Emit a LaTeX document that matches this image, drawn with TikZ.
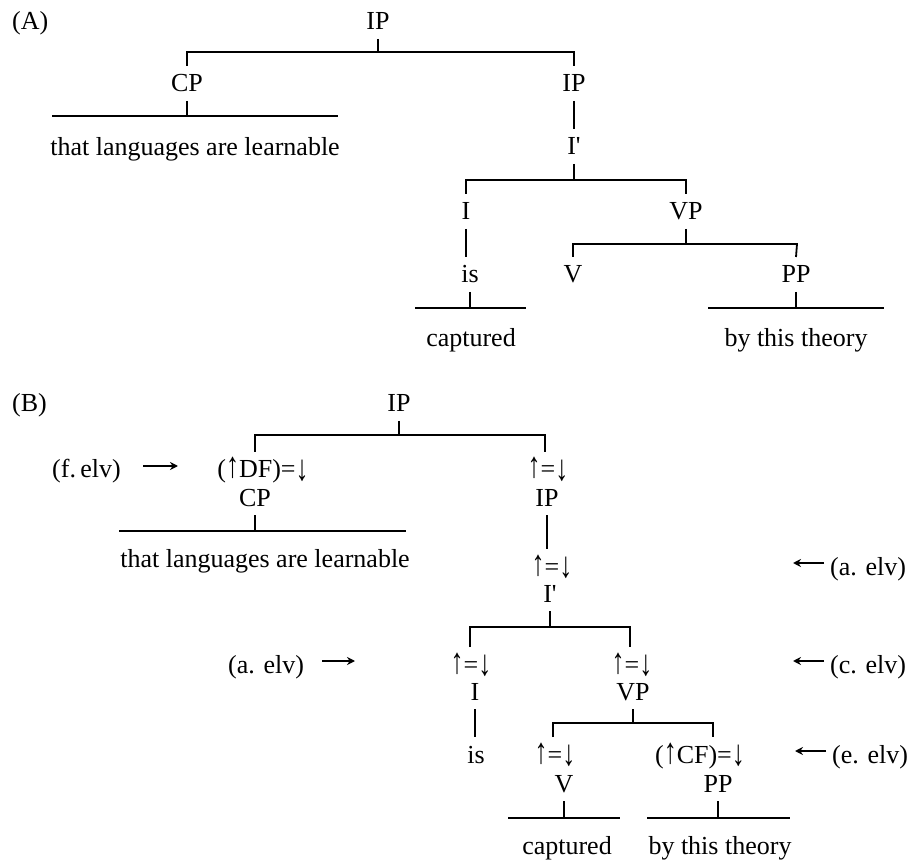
\documentclass[tikz,border=0pt]{standalone}
\usepackage{fontspec}
\setmainfont{Liberation Serif}
\usetikzlibrary{arrows.meta}
\newcommand{\ibarlabel}{I\textquotesingle}
% taller up/down arrows for the functional annotations
\newcommand{\uparr}{\scalebox{1}[1.4]{↑}}
\newcommand{\dnarr}{\raisebox{-0.08em}{\scalebox{1}[1.4]{↓}}}
\newcommand{\eqann}{\uparr=\dnarr}
\begin{document}
\begin{tikzpicture}[x=1pt,y=-1pt,
  every node/.style={font=\fontsize{26}{30}\selectfont, inner sep=0pt},
  cat/.style={anchor=base, text height=17pt, text depth=0pt, outer ysep=9pt},
  words/.style={anchor=base},
  side/.style={anchor=base west},
  tree/.style={line width=1.8pt},
  pointer/.style={line width=1.7pt, -{Stealth[length=8pt,width=8pt]}}]
\useasboundingbox (0,0) rectangle (908,866);

% ---------------- (A) phrase-structure tree ----------------
\node[side] (labA) at (12,30) {(A)};
\node[cat] (ipA)   at (378,30)  {IP};
\node[cat] (cpA)   at (187,92)  {CP};
\node[cat] (ipA2)  at (574,92)  {IP};
\node[cat] (ibarA) at (574,155) {\ibarlabel};
\node[cat] (iA)    at (466,220) {I};
\node[cat] (vpA)   at (686,220) {VP};
\node[cat] (isA)   at (470,283) {is};
\node[cat] (vA)    at (573,283) {V};
\node[cat] (ppA)   at (796,283) {PP};
\node[words] (wA1) at (195,156) {that languages are learnable};
\node[words] (wA2) at (471,347) {captured};
\node[words] (wA3) at (796,347) {by this theory};

\coordinate (a1l) at (187,52);  \coordinate (a1r) at (574,52);
\coordinate (a2l) at (52,116);  \coordinate (a2r) at (338,116);
\coordinate (a3l) at (466,180); \coordinate (a3r) at (686,180);
\coordinate (a4l) at (573,244); \coordinate (a4r) at (797,244);
\coordinate (a5l) at (415,308); \coordinate (a5r) at (526,308);
\coordinate (a6l) at (708,308); \coordinate (a6r) at (884,308);

\draw[tree] (ipA.south) -- (ipA.south |- a1l);
\draw[tree] (cpA.north) -- (a1l) -- (a1r) -- (ipA2.north);
\draw[tree] (cpA.south) -- (cpA.south |- a2l);
\draw[tree] (a2l) -- (a2r);
\draw[tree] (ipA2.south) -- (ibarA.north);
\draw[tree] (ibarA.south) -- (ibarA.south |- a3l);
\draw[tree] (iA.north) -- (a3l) -- (a3r) -- (vpA.north);
\draw[tree] (iA.south) -- (iA.south |- isA.north);
\draw[tree] (vpA.south) -- (vpA.south |- a4l);
\draw[tree] (vA.north) -- (a4l) -- (a4r) -- (ppA.north);
\draw[tree] (isA.south) -- (isA.south |- a5l);
\draw[tree] (a5l) -- (a5r);
\draw[tree] (ppA.south) -- (ppA.south |- a6l);
\draw[tree] (a6l) -- (a6r);

% ---------------- (B) annotated c-structure ----------------
\node[side] (labB) at (12,412) {(B)};
\node[cat] (ipB)    at (399,412) {IP};
\node[cat] (annDF)  at (263,478) {(\uparr DF)=\dnarr};
\node[cat] (cpB)    at (255,506) {CP};
\node[cat] (annIP)  at (548,478) {\eqann};
\node[cat] (ipB2)   at (547,506) {IP};
\node[cat] (annIb)  at (552,575) {\eqann};
\node[cat] (ibarB)  at (550,602) {\ibarlabel};
\node[cat] (annI)   at (471,673) {\eqann};
\node[cat] (annVP)  at (632,673) {\eqann};
\node[cat] (iB)     at (475,700) {I};
\node[cat] (vpB)    at (633,700) {VP};
\node[cat] (isB)    at (476,763) {is};
\node[cat] (annV)   at (555,763) {\eqann};
\node[cat] (annCF)  at (700,763) {(\uparr CF)=\dnarr};
\node[cat] (vB)     at (564,792) {V};
\node[cat] (ppB)    at (718,792) {PP};
\node[words] (wB1) at (265,567) {that languages are learnable};
\node[words] (wB2) at (567,854) {captured};
\node[words] (wB3) at (720,854) {by this theory};

% side annotations with their pointers
\node[side] (fLab)  at (52,478)  {(f.\,elv)};
\node[side] (aLabL) at (228,673) {(a. elv)};
\node[side] (aLabR) at (830,575) {(a. elv)};
\node[side] (cLabR) at (830,673) {(c. elv)};
\node[side] (eLabR) at (832,763) {(e. elv)};

\coordinate (fTail) at (143,466); \coordinate (fTip) at (178,466);
\coordinate (aTail) at (322,661); \coordinate (aTip) at (355,661);
\coordinate (rTipA) at (793,563); \coordinate (rTipC) at (793,661);
\coordinate (rTipE) at (795,751);

\draw[pointer] (fTail) -- (fTip);
\draw[pointer] (aTail) -- (aTip);
\draw[pointer, shorten <=6pt] (aLabR.west |- rTipA) -- (rTipA);
\draw[pointer, shorten <=6pt] (cLabR.west |- rTipC) -- (rTipC);
\draw[pointer, shorten <=6pt] (eLabR.west |- rTipE) -- (rTipE);

\coordinate (b1l) at (255,435); \coordinate (b1r) at (545,435);
\coordinate (b2l) at (119,531); \coordinate (b2r) at (406,531);
\coordinate (b3l) at (470,627); \coordinate (b3r) at (630,627);
\coordinate (b4l) at (553,723); \coordinate (b4r) at (713,723);
\coordinate (b5l) at (508,818); \coordinate (b5r) at (620,818);
\coordinate (b6l) at (647,818); \coordinate (b6r) at (790,818);

\draw[tree] (ipB.south) -- (ipB.south |- b1l);
\draw[tree] (b1l |- annDF.north) -- (b1l) -- (b1r) -- (b1r |- annIP.north);
\draw[tree] (cpB.south) -- (cpB.south |- b2l);
\draw[tree] (b2l) -- (b2r);
\draw[tree] (ipB2.south) -- (ipB2.south |- annIb.north);
\draw[tree] (ibarB.south) -- (ibarB.south |- b3l);
\draw[tree] (b3l |- annI.north) -- (b3l) -- (b3r) -- (b3r |- annVP.north);
\draw[tree] (iB.south) -- (iB.south |- isB.north);
\draw[tree] (vpB.south) -- (vpB.south |- b4l);
\draw[tree] (b4l |- annV.north) -- (b4l) -- (b4r) -- (b4r |- annCF.north);
\draw[tree] (vB.south) -- (vB.south |- b5l);
\draw[tree] (b5l) -- (b5r);
\draw[tree] (ppB.south) -- (ppB.south |- b6l);
\draw[tree] (b6l) -- (b6r);
\end{tikzpicture}
\end{document}
